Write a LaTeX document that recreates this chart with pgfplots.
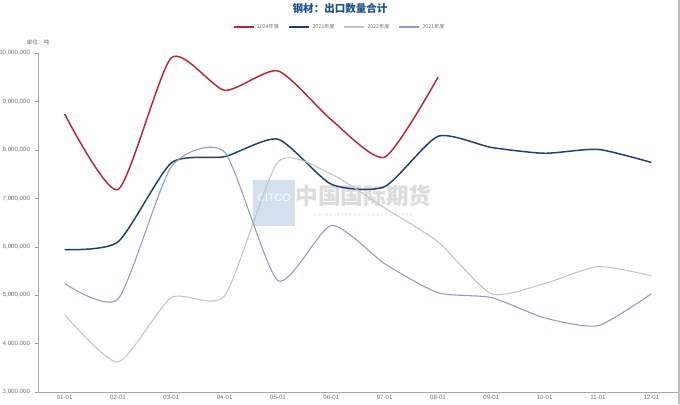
\documentclass[border=0pt]{standalone}
\usepackage{pgfplots}
\pgfplotsset{compat=1.18}
\usepackage{fontspec}
\setmainfont{Liberation Sans}
\newfontfamily\cjk{Noto Sans CJK SC}

\definecolor{c2024}{HTML}{B42A30}
\definecolor{c2023}{HTML}{1F3F6E}
\definecolor{c2022}{HTML}{C4C4C4}
\definecolor{c2021}{HTML}{8C9EBF}
\definecolor{titleblue}{HTML}{1F4E8C}
\definecolor{tickgray}{HTML}{707070}
\definecolor{wmblue}{HTML}{D5E0EE}
\definecolor{wmgray}{HTML}{DCDCDC}

\begin{document}
\begin{tikzpicture}
\path[use as bounding box] (-28.5pt,-9pt) rectangle (481.5pt,294pt);
% watermark
\fill[wmblue] (161.25pt,124.5pt) rectangle (192.75pt,159pt);
\node[text=white,font=\fontsize{8}{8}\selectfont\rmfamily] at (177pt,146pt) {CITCO};
\node[text=wmgray,font=\fontsize{17}{17}\selectfont\cjk\bfseries] at (244pt,147pt) {中国国际期货};
\node[text=wmgray,font=\fontsize{3.2}{3.2}\selectfont] at (244pt,133pt) {C H I N A\ \ I N T E R N A T I O N A L\ \ F U T U R E S};
\draw[gray!50,line width=1.5pt] (480.5pt,-9pt) -- (480.5pt,294pt);

\begin{axis}[
  at={(0,0)}, anchor=south west,
  scale only axis,
  width=480pt, height=254.25pt,
  xmin=-0.5, xmax=11.5,
  ymin=3000000, ymax=10000000,
  xtick={0,...,11},
  xticklabels={01-01,02-01,03-01,04-01,05-01,06-01,07-01,08-01,09-01,10-01,11-01,12-01},
  minor xtick={0.5,1.5,...,10.5},
  ytick={3000000,4000000,...,10000000},
  scaled y ticks=false,
  yticklabel style={/pgf/number format/fixed, /pgf/number format/precision=0, /pgf/number format/1000 sep={,}, xshift=-0.5pt},
  /pgf/number format/assume math mode=true,
  axis x line*=bottom, axis y line*=left,
  axis line style={gray!70, line width=0.6pt, -},
  major tick length=2pt, minor tick length=2pt,
  xtick style={draw=none},
  minor x tick style={gray!80},
  tick align=outside,
  ytick style={gray!80},
  ticklabel style={font=\fontsize{4.6}{5}\selectfont, text=tickgray},
  xticklabel style={inner sep=0.5pt, yshift=0.5pt},
  clip=false,
  legend columns=4,
  legend style={at={(0.472,1)}, anchor=center, yshift=19.5pt, draw=none, fill=none,
    font=\fontsize{3.9}{4}\selectfont\cjk, text=tickgray,
    /tikz/every even column/.append style={column sep=5pt}},
  legend image code/.code={\draw[#1] (0pt,0pt) -- (15pt,0pt);},
  every axis plot/.append style={smooth, tension=0.38},
]
\addplot[c2024, line width=1.1pt] coordinates {
  (0,8740000) (1,7180000) (2,9900000) (3,9230000) (4,9630000) (5,8620000) (6,7850000) (7,9500000)
};
\addlegendentry{2024年度}
\addplot[c2023, line width=1.1pt] coordinates {
  (0,5940000) (1,6100000) (2,7730000) (3,7860000) (4,8220000) (5,7290000) (6,7240000) (7,8280000)
  (8,8050000) (9,7930000) (10,8010000) (11,7740000)
};
\addlegendentry{2023年度}
\addplot[c2022, line width=0.8pt] coordinates {
  (0,4600000) (1,3620000) (2,4950000) (3,4990000) (4,7750000) (5,7500000) (6,6800000) (7,6100000)
  (8,5030000) (9,5240000) (10,5590000) (11,5400000)
};
\addlegendentry{2022年度}
\addplot[c2021, line width=0.8pt] coordinates {
  (0,5240000) (1,4920000) (2,7650000) (3,7950000) (4,5300000) (5,6440000) (6,5650000) (7,5050000)
  (8,4950000) (9,4530000) (10,4370000) (11,5030000)
};
\addlegendentry{2021年度}
\node[font=\fontsize{7.9}{8}\selectfont\cjk\bfseries, text=titleblue] at (axis description cs:0.472,1) [yshift=33.75pt] {钢材：出口数量合计};
\node[font=\fontsize{4.3}{5}\selectfont\cjk, text=tickgray] at (axis description cs:0,1) [yshift=8.25pt] {单位：吨};
\end{axis}
\end{tikzpicture}
\end{document}
